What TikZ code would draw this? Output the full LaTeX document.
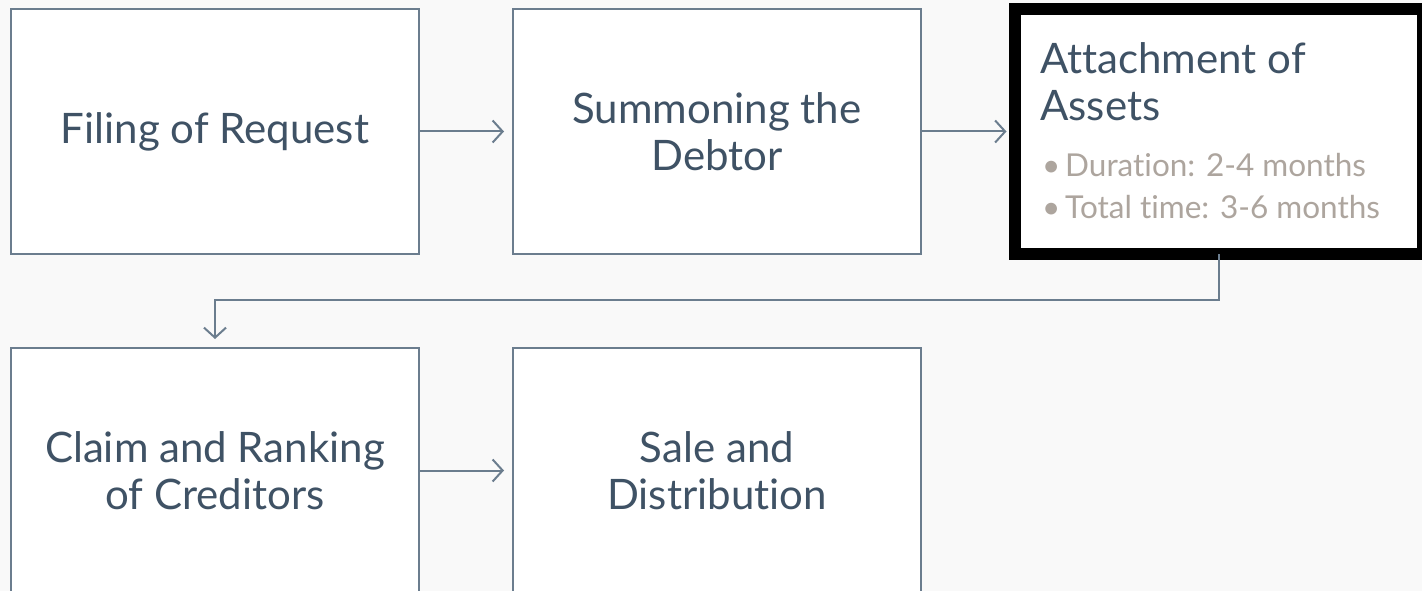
\documentclass[tikz,border=0pt]{standalone}
\usepackage{fontspec}
\setmainfont{Lato}[Ligatures=NoCommon]
\usetikzlibrary{arrows.meta}
\definecolor{bg}{HTML}{F9F9F9}
\definecolor{edge}{HTML}{6B7D8E}
\definecolor{ink}{HTML}{3F5265}
\definecolor{soft}{HTML}{ADA59E}
\tikzset{
  stagebox/.style={draw=edge, line width=2pt, fill=white, minimum width=408pt, minimum height=245pt, inner sep=0pt, align=center, text=ink, font=\fontsize{42}{47}\selectfont},
  flow/.style={draw=edge, line width=2pt, -{Straight Barb[length=10pt,width=22pt,line width=2pt]}, shorten >=8pt}
}
\begin{document}
\begin{tikzpicture}[x=1pt,y=-1pt]
\fill[bg] (0,0) rectangle (1422,591);
\useasboundingbox (0,0) rectangle (1422,591);
\node[stagebox] (filing) at (215,131.5) {Filing of Request};
\node[stagebox] (summon) at (717,131.5) {Summoning the\\Debtor};
\node[stagebox, draw=black, line width=12pt] (attach) at (1218.5,131.5) {};
\node[anchor=north west, inner sep=0pt, align=left, text=ink, font=\fontsize{42}{47}\selectfont] (attachtitle) at (1040,42) {Attachment of\\Assets};
\node[anchor=north west, inner sep=0pt, align=left, text=soft, font=\fontsize{31.5}{42}\selectfont] (attachlist) at (1042,153) {\makebox[23pt][l]{•}Duration: 2-4 months\\\makebox[23pt][l]{•}Total time: 3-6 months};
\node[stagebox] (claim) at (215,470.5) {Claim and Ranking\\of Creditors};
\node[stagebox] (sale) at (717,470.5) {Sale and\\Distribution};
\coordinate (turnB) at (215,300);
\draw[flow] (filing.east) -- (summon.west);
\draw[flow, shorten >=2pt] (summon.east) -- (attach.west);
\draw[flow] ([yshift=6pt]attach.south) |- (turnB) -- (claim.north);
\draw[flow] (claim.east) -- (sale.west);
\end{tikzpicture}
\end{document}
